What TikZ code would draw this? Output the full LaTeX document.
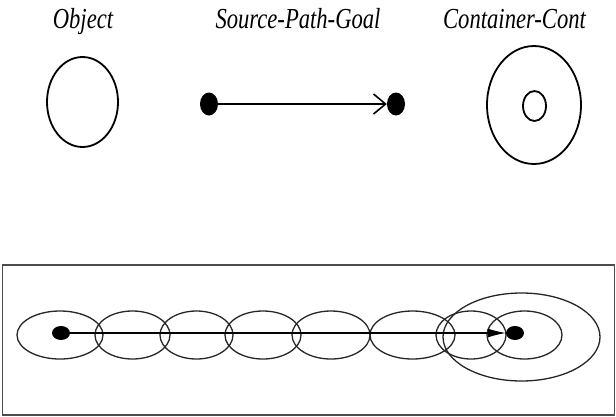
\documentclass[tikz,border=0pt]{standalone}
\usepackage{fontspec}
\setmainfont{Liberation Serif}
\usetikzlibrary{shapes.geometric,arrows.meta}
\tikzset{
  lbl/.style={font=\fontsize{29}{32}\selectfont\itshape, anchor=base, inner sep=0pt, xscale=0.78},
  topshape/.style={draw=black, line width=1.8pt, ellipse, inner sep=0pt},
  bigdot/.style={fill=black, ellipse, inner sep=0pt, minimum width=18pt, minimum height=23pt},
  smalldot/.style={fill=black, ellipse, inner sep=0pt, minimum width=18pt, minimum height=14pt},
  ring/.style={draw=black!85, line width=1.3pt, ellipse, inner sep=0pt},
}
\begin{document}
\begin{tikzpicture}[x=1pt,y=-1pt]
\useasboundingbox (0,0) rectangle (616,416);
% labels
\node[lbl] (tobj) at (83,28) {Object};
\node[lbl] (tspg) at (298,28) {Source-Path-Goal};
\node[lbl, anchor=base west] (tcc) at (443,28) {Container-Cont};
% object
\node[topshape, minimum width=71pt, minimum height=90pt] (obj) at (82.5,102) {};
% source path goal
\node[bigdot] (src) at (209,104) {};
\node[bigdot] (goal) at (396,104) {};
\draw[line width=1.8pt, -{Straight Barb[length=12pt,width=20pt,line width=1.6pt]}] (src) -- (goal);
% container
\node[topshape, minimum width=94pt, minimum height=118pt] (cout) at (534,105) {};
\node[topshape, minimum width=23pt, minimum height=30pt] (cin) at (534.5,106) {};
% bottom frame
\node[draw=black!70, line width=1.4pt, minimum width=612pt, minimum height=150pt, inner sep=0pt] (frame) at (308.5,340) {};
% rings
\node[ring, minimum width=86pt, minimum height=48pt] (e1) at (60,335) {};
\node[ring, minimum width=75pt, minimum height=48pt] (e2) at (132.5,335) {};
\node[ring, minimum width=73pt, minimum height=48pt] (e3) at (196.5,335) {};
\node[ring, minimum width=76pt, minimum height=48pt] (e4) at (263,335) {};
\node[ring, minimum width=78pt, minimum height=48pt] (e5) at (331,335) {};
\node[ring, minimum width=85pt, minimum height=48pt] (e6) at (412.5,335) {};
\node[ring, minimum width=70pt, minimum height=48pt] (e7) at (471,335) {};
\node[ring, minimum width=75pt, minimum height=48pt] (e8) at (524.5,335) {};
\node[ring, minimum width=157pt, minimum height=88pt] (big) at (521.5,337) {};
% path
\node[smalldot] (d1) at (61,333) {};
\node[smalldot] (d2) at (515,333) {};
\draw[line width=1.1pt, -{Latex[length=18pt,width=9pt]}] (d1) -- (d2);
\end{tikzpicture}
\end{document}
